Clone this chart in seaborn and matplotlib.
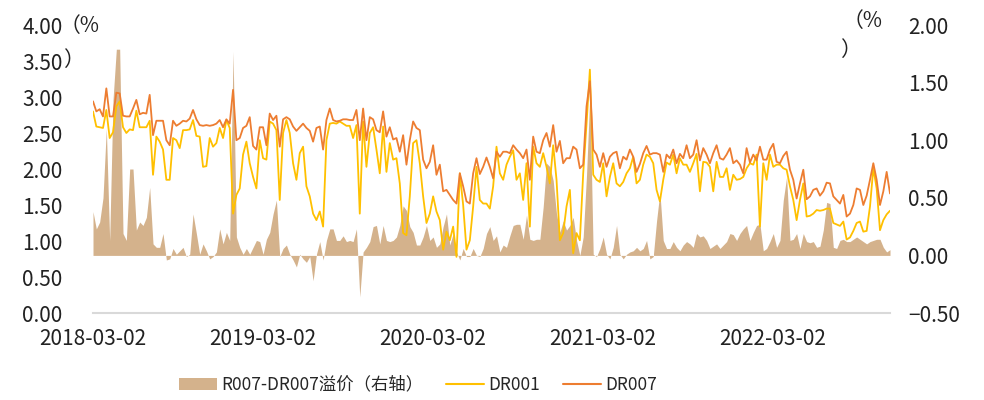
import numpy as np
import pandas as pd
import matplotlib
matplotlib.use('Agg')
import matplotlib.pyplot as plt
import seaborn as sns
from matplotlib.patches import Patch
from matplotlib.lines import Line2D

# weekly readings, 2018-03 .. 2022-11
dr007 = [
    2.94, 2.80, 2.83, 2.73, 3.12, 2.73, 2.73, 3.06, 3.05, 2.74, 2.73, 2.73, 2.84, 2.96, 2.76, 2.78, 2.77, 3.03, 2.47, 2.67,
    2.67, 2.67, 2.40, 2.33, 2.67, 2.60, 2.63, 2.67, 2.66, 2.70, 2.82, 2.69, 2.61, 2.60,
    2.61, 2.60, 2.61, 2.63, 2.68, 2.58, 2.69, 2.63, 3.10, 2.40, 2.43, 2.57, 2.60, 2.72, 2.32, 2.27, 2.58, 2.58, 2.33, 2.77,
    2.68, 2.74, 2.31, 2.69, 2.72, 2.69, 2.59, 2.53, 2.58, 2.63, 2.57, 2.53, 2.38, 2.57,
    2.59, 2.27, 2.68, 2.84, 2.68, 2.66, 2.67, 2.69, 2.69, 2.68, 2.68, 2.82, 2.40, 2.84, 2.40, 2.72, 2.69, 2.54, 2.51, 2.80,
    2.45, 2.58, 2.41, 2.43, 2.24, 2.47, 2.06, 2.40, 2.66, 2.57, 2.54, 2.13, 2.01, 2.10, 2.33,
    1.92, 2.06, 1.69, 1.71, 1.64, 1.57, 1.52, 1.94, 1.76, 1.55, 1.52, 1.94, 2.15, 1.93, 2.03, 2.16, 2.03, 1.87, 2.24, 2.17,
    2.24, 2.24, 2.22, 2.33, 2.27, 2.22, 2.15, 2.27, 1.85, 2.45, 2.24, 2.22, 2.40, 2.50,
    2.31, 2.61, 2.24, 2.39, 2.08, 2.15, 2.15, 2.31, 2.27, 2.01, 2.06, 2.87, 3.22, 2.27, 2.20, 2.03, 2.22, 2.03, 2.17, 2.22,
    2.24, 2.01, 2.17, 2.13, 2.27, 2.17, 1.96, 2.07, 2.22, 2.32, 2.20, 2.22, 2.22, 2.20, 1.96,
    2.20, 2.15, 2.27, 2.08, 2.21, 2.15, 2.33, 2.15, 2.20, 2.40, 2.12, 2.29, 2.20, 2.08, 2.22, 2.33, 2.15, 2.13, 2.20, 2.29,
    2.08, 2.12, 2.06, 1.94, 2.29, 2.09, 2.20, 2.12, 2.31, 2.13, 2.13, 2.27, 2.35, 2.10,
    2.08, 2.18, 2.24, 1.99, 1.85, 1.59, 1.80, 1.99, 1.58, 1.62, 1.71, 1.73, 1.63, 1.69, 1.81, 1.80, 1.62, 1.57, 1.52, 1.64,
    1.34, 1.38, 1.50, 1.73, 1.71, 1.50, 1.63, 1.85, 2.08, 1.85, 1.50, 1.69, 1.96, 1.66,
]

dr001 = [
    2.80, 2.59, 2.58, 2.57, 2.82, 2.43, 2.51, 2.87, 2.94, 2.58, 2.50, 2.55, 2.54, 2.81, 2.58, 2.58, 2.58, 2.67, 1.92, 2.45,
    2.38, 2.27, 1.85, 1.85, 2.43, 2.40, 2.29, 2.54, 2.54, 2.55, 2.68, 2.46, 2.45, 2.03,
    2.04, 2.43, 2.31, 2.36, 2.57, 2.43, 2.68, 2.57, 1.38, 1.64, 1.73, 2.20, 2.38, 2.08, 1.89, 1.73, 2.40, 2.15, 2.13, 2.66,
    2.63, 2.54, 1.57, 2.50, 2.68, 2.50, 2.08, 1.85, 2.22, 2.31, 1.76, 1.62, 1.38, 1.29,
    1.41, 1.20, 2.40, 2.63, 2.64, 2.63, 2.66, 2.63, 2.60, 2.60, 2.43, 2.61, 1.38, 2.66, 2.03, 2.50, 2.58, 2.27, 1.94, 2.59,
    1.96, 2.36, 2.13, 2.15, 1.80, 1.11, 1.08, 1.62, 2.36, 2.40, 2.08, 1.62, 1.25, 1.38, 1.62,
    1.41, 1.29, 0.88, 1.13, 1.01, 1.20, 0.78, 1.94, 1.50, 0.88, 1.01, 1.48, 2.03, 1.57, 1.52, 1.52, 1.45, 1.76, 2.31, 1.94,
    1.85, 2.06, 2.17, 2.26, 1.85, 1.94, 1.57, 2.08, 1.20, 2.31, 2.08, 2.03, 2.22, 2.03,
    1.80, 2.33, 1.85, 1.01, 1.11, 1.48, 1.71, 0.83, 1.11, 1.01, 1.94, 2.63, 3.38, 1.92, 1.85, 1.82, 2.08, 1.62, 1.89, 2.08,
    1.80, 1.76, 1.82, 1.94, 2.01, 2.17, 1.80, 1.85, 2.06, 2.20, 2.17, 2.08, 1.71, 1.55, 1.85,
    2.09, 2.06, 2.20, 1.94, 2.15, 2.06, 2.06, 1.96, 2.08, 2.21, 1.69, 2.10, 2.09, 2.03, 1.69, 2.10, 1.89, 1.89, 2.01, 1.71,
    1.92, 1.85, 1.86, 1.89, 2.01, 2.08, 2.06, 2.20, 1.20, 2.08, 1.85, 2.20, 2.03, 2.06,
    2.06, 2.01, 1.99, 1.76, 1.57, 1.29, 1.57, 1.80, 1.34, 1.35, 1.38, 1.43, 1.42, 1.43, 1.45, 1.45, 1.25, 1.23, 1.21, 1.27,
    1.02, 1.05, 1.14, 1.25, 1.27, 1.13, 1.14, 1.48, 2.01, 1.73, 1.15, 1.29, 1.37, 1.42,
]

# R007-DR007 spread, right axis
spread = [
    0.38, 0.23, 0.29, 0.50, 1.10, 0.13, 1.35, 1.79, 1.79, 0.19, 0.13, 0.75, 0.75, 0.22, 0.29, 0.26, 0.33, 0.59, 0.10, 0.07,
    0.07, 0.19, -0.04, -0.03, 0.06, 0.01, 0.04, 0.07, -0.01, 0.01, 0.36, 0.19, 0.01, 0.10,
    0.04, -0.03, -0.01, 0.03, 0.23, 0.10, 0.20, 0.13, 1.77, 0.16, 0.07, 0.01, 0.06, 0.01, 0.07, 0.13, 0.12, 0.01, 0.14, 0.20,
    0.36, 0.48, -0.01, 0.06, 0.09, 0.01, -0.04, -0.10, 0.01, -0.03, -0.06, -0.01, -0.22, 0.01,
    0.12, -0.04, 0.13, 0.23, 0.23, 0.13, 0.13, 0.17, 0.12, 0.13, 0.12, 0.23, -0.36, 0.03, 0.07, 0.12, 0.25, 0.26, 0.10, 0.26,
    0.13, 0.12, 0.13, 0.16, 0.26, 0.43, 0.39, 0.25, 0.20, 0.09, 0.09, 0.16, 0.26, 0.13, 0.16,
    0.07, 0.10, 0.25, 0.36, 0.09, 0.19, 0.03, -0.04, 0.06, -0.01, -0.01, 0.06, 0.00, -0.01, 0.06, 0.19, 0.25, 0.13, 0.17, 0.03,
    0.09, 0.07, 0.17, 0.26, 0.27, 0.27, 0.14, 0.35, 0.14, 0.13, 0.14, 0.14, 0.42, 0.80,
    0.77, 0.65, 0.36, 0.20, 0.30, 0.22, 0.26, 0.33, 0.13, 0.00, 0.16, 0.70, 1.40, 0.01, -0.01, 0.06, 0.16, 0.01, -0.03, 0.07,
    0.26, 0.01, -0.03, 0.01, 0.03, 0.04, 0.07, 0.04, 0.06, 0.13, -0.03, -0.01, 0.30, 0.55, 0.13,
    0.06, 0.06, 0.12, 0.07, 0.04, 0.09, 0.12, 0.10, 0.07, 0.19, 0.16, 0.17, 0.13, 0.06, 0.08, 0.10, 0.06, 0.09, 0.12, 0.19,
    0.18, 0.13, 0.19, 0.23, 0.26, 0.13, 0.20, 0.26, 0.27, 0.04, 0.06, 0.12, 0.19, 0.07,
    0.13, 0.48, 0.68, 0.13, 0.14, 0.19, 0.06, 0.19, 0.12, 0.11, 0.12, 0.07, 0.08, 0.22, 0.46, 0.45, 0.07, 0.06, 0.13, 0.14,
    0.12, 0.12, 0.14, 0.16, 0.14, 0.12, 0.10, 0.12, 0.13, 0.14, 0.14, 0.07, 0.03, 0.05,
]

tick_labels = ['2018-03-02', '2019-03-02', '2020-03-02', '2021-03-02', '2022-03-02']
legend_labels = ['R007-DR007溢价（右轴）', 'DR001', 'DR007']

dates = pd.date_range('2018-03-02', '2022-11-09', periods=len(dr007))
df = pd.DataFrame({'date': dates, 'DR001': dr001, 'DR007': dr007, 'spread': spread})

sns.set_style('white')
plt.rcParams['font.family'] = ['Noto Sans CJK SC', 'DejaVu Sans']

tan = '#D4B28C'
yellow = '#FFC000'
orange = '#ED7D31'

fig = plt.figure(figsize=(9.84, 4.0), dpi=100)
ax = fig.add_axes([93 / 984, 1 - 313 / 400, (890 - 93) / 984, 288 / 400])
ax2 = ax.twinx()

ax2.fill_between(df['date'], 0, df['spread'], color=tan, linewidth=0)
sns.lineplot(data=df, x='date', y='DR001', ax=ax, color=yellow, linewidth=1.3, legend=False)
sns.lineplot(data=df, x='date', y='DR007', ax=ax, color=orange, linewidth=1.3, legend=False)

ax.set_zorder(ax2.get_zorder() + 1)
ax.patch.set_visible(False)

ax.set_ylim(0, 4)
ax2.set_ylim(-0.5, 2.0)
ax.set_yticks(np.arange(0, 4.01, 0.5))
ax2.set_yticks(np.arange(-0.5, 2.01, 0.5))
ax.set_yticklabels([f'{v:.2f}' for v in np.arange(0, 4.01, 0.5)])
ax2.set_yticklabels([f'{v:.2f}'.replace('-', '\u2212') for v in np.arange(-0.5, 2.01, 0.5)])

ax.set_xlim(dates[0], dates[-1])
ax.set_xticks(pd.to_datetime(tick_labels))
ax.set_xticklabels(tick_labels)
ax.set_xlabel('')
ax.set_ylabel('')
ax2.set_ylabel('')

for s in ['top', 'left', 'right']:
    ax.spines[s].set_visible(False)
for s in ax2.spines.values():
    s.set_visible(False)
ax.spines['bottom'].set_color('#D9D9D9')
ax.spines['bottom'].set_linewidth(1.5)

ax.tick_params(axis='y', length=0, pad=22, labelsize=15, colors='#222222')
ax.tick_params(axis='x', length=0, pad=11, labelsize=15, colors='#222222')
ax2.tick_params(axis='y', length=0, pad=13, labelsize=15, colors='#222222')

# unit labels
fig.text(60 / 984, 1 - 26 / 400, '（%', fontsize=15, va='center', ha='left', color='#222222')
fig.text(63 / 984, 1 - 60 / 400, '）', fontsize=15, va='center', ha='left', color='#222222')
fig.text(843 / 984, 1 - 21 / 400, '（%', fontsize=15, va='center', ha='left', color='#222222')
fig.text(840 / 984, 1 - 50 / 400, '）', fontsize=15, va='center', ha='left', color='#222222')

handles = [Patch(facecolor=tan, edgecolor='none'),
           Line2D([], [], color=yellow, linewidth=1.5),
           Line2D([], [], color=orange, linewidth=1.5)]
fig.legend(handles, legend_labels, loc='center left', bbox_to_anchor=(0.166, 0.038),
           ncol=3, frameon=False, fontsize=12.5, handlelength=2.2, handletextpad=0.25,
           columnspacing=1.3)

fig.savefig('out.png', dpi=100)
